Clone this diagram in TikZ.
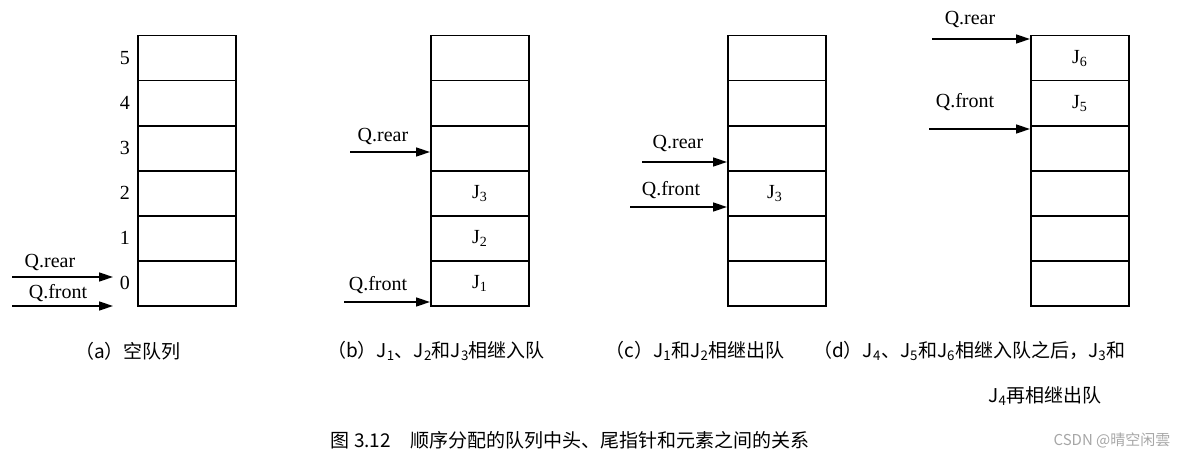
\documentclass[tikz,border=0pt]{standalone}
\usepackage{fontspec}
\setmainfont{Liberation Serif}
\newfontfamily\cjk{Noto Sans CJK SC}
\usetikzlibrary{arrows.meta}
\begin{document}
\begin{tikzpicture}[x=1pt,y=-1pt,
  cell/.style={draw,line width=1.5pt,minimum width=98pt,minimum height=45pt,inner sep=0,anchor=north west},
  lab/.style={font=\fontsize{20}{22}\selectfont,inner sep=1pt},
  ptr/.style={line width=1.6pt,-{Triangle[length=14pt,width=9pt]}},
  captxt/.style={font=\fontsize{19}{22}\selectfont\cjk,inner sep=1pt}]
\useasboundingbox (0,0) rectangle (1200,460);
\foreach \s/\x in {a/137,b/430,c/727,d/1030}{
  \foreach \i in {0,...,5}{
    \node[cell] (\s\i) at (\x,{305-45*(\i+1)}) {};
  }
}
% (a)
\foreach \i in {0,...,5}{ \node[lab,anchor=east] (n\i) at ([xshift=-6pt]a\i.west) {\i}; }
\coordinate (ar) at (12,277); \coordinate (arE) at (113,277);
\coordinate (af) at (12,306); \coordinate (afE) at (113,306);
\draw[ptr] (ar) -- (arE);
\draw[ptr] (af) -- (afE);
\node[lab] (arl) at (50,262) {Q.rear};
\node[lab] (afl) at (58,293) {Q.front};
% (b)
\coordinate (br) at (350,152);
\draw[ptr] (br) -- (b3.west|-br);
\node[lab] (brl) at (383,136) {Q.rear};
\coordinate (bf) at (344,302);
\draw[ptr] (bf) -- (b0.west|-bf);
\node[lab] (bfl) at (378,285) {Q.front};
\node[lab] (j3) at (b2.center) {J\textsubscript{3}};
\node[lab] (j2) at (b1.center) {J\textsubscript{2}};
\node[lab] (j1) at (b0.center) {J\textsubscript{1}};
% (c)
\coordinate (cr) at (642,162);
\draw[ptr] (cr) -- (c3.west|-cr);
\node[lab] (crl) at (678,143) {Q.rear};
\coordinate (cf) at (630,207);
\draw[ptr] (cf) -- (c2.west|-cf);
\node[lab] (cfl) at (671,190) {Q.front};
\node[lab] (cj3) at ([xshift=-2pt]c2.center) {J\textsubscript{3}};
% (d)
\coordinate (dr) at (932,39);
\draw[ptr] (dr) -- (d5.west|-dr);
\node[lab] (drl) at (970,20) {Q.rear};
\coordinate (df) at (929,129);
\draw[ptr] (df) -- (d4.west|-df);
\node[lab] (dfl) at (965,102) {Q.front};
\node[lab] (j6) at (d5.center) {J\textsubscript{6}};
\node[lab] (j5) at (d4.center) {J\textsubscript{5}};
% captions
\node[captxt] (ca) at (128,351) {（a）空队列};
\node[captxt] (cb) at (436,351) {（b）J\textsubscript{1}、J\textsubscript{2}和J\textsubscript{3}相继入队};
\node[captxt] (cc) at (695,351) {（c）J\textsubscript{1}和J\textsubscript{2}相继出队};
\node[captxt,anchor=west] (cd) at (812,351) {（d）J\textsubscript{4}、J\textsubscript{5}和J\textsubscript{6}相继入队之后，J\textsubscript{3}和};
\node[captxt] (cd2) at (1045,396) {J\textsubscript{4}再相继出队};
\node[captxt] (title) at (570,440) {图 3.12\quad 顺序分配的队列中头、尾指针和元素之间的关系};
\node[font=\fontsize{15}{16}\selectfont\cjk,text=gray!70] (wm) at (1112,440) {CSDN @晴空闲雲};
\end{tikzpicture}
\end{document}
